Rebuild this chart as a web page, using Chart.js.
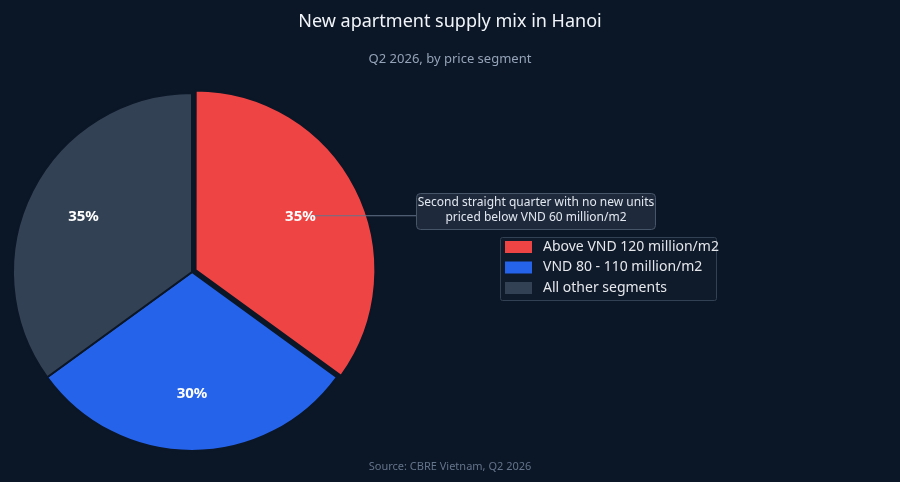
<!DOCTYPE html>
<html><head><meta charset="utf-8">
<script src="https://cdn.jsdelivr.net/npm/chart.js@4"></script>
<style>html,body{margin:0;padding:0;background:#0b1626;}#w{width:900px;height:482px;position:relative}</style>
</head><body><div id="w"><canvas id="c"></canvas></div>
<script>
const categories = ["Above VND 120 million/m2", "VND 80 - 110 million/m2", "All other segments"];
const shares = [35, 30, 35];
const colors = ["#ef4444", "#2563eb", "#334155"];
const offsets = [16, 0, 0];
const annotationLines = ["Second straight quarter with no new units", "priced below VND 60 million/m2"];
const F = "'Noto Sans', sans-serif";
const deco = {
  id: 'deco',
  afterDraw(chart) {
    const ctx = chart.ctx;
    ctx.save();
    ctx.textAlign = 'center'; ctx.textBaseline = 'middle';
    ctx.fillStyle = '#f1f5f9'; ctx.font = "18px " + F;
    ctx.fillText("New apartment supply mix in Hanoi", 450, 22);
    ctx.fillStyle = '#94a3b8'; ctx.font = "13px " + F;
    ctx.fillText("Q2 2026, by price segment", 450, 59);
    ctx.fillStyle = '#64748b'; ctx.font = "11px " + F;
    ctx.fillText("Source: CBRE Vietnam, Q2 2026", 450, 467);
    const meta = chart.getDatasetMeta(0);
    const pos = [];
    meta.data.forEach((a, i) => {
      const mid = (a.startAngle + a.endAngle) / 2;
      const r = a.outerRadius * 0.68;
      pos.push([a.x + Math.cos(mid) * r, a.y + Math.sin(mid) * r]);
    });
    // annotation line
    ctx.strokeStyle = '#64748b'; ctx.lineWidth = 1.2;
    ctx.beginPath(); ctx.moveTo(pos[0][0] + 10, pos[0][1] - 1); ctx.lineTo(416, pos[0][1] - 1); ctx.stroke();
    ctx.font = "bold 15px " + F; ctx.fillStyle = '#ffffff';
    meta.data.forEach((a, i) => ctx.fillText(shares[i] + "%", pos[i][0], pos[i][1]));
    // annotation box
    ctx.fillStyle = '#1e293b'; ctx.strokeStyle = '#475569'; ctx.lineWidth = 1;
    ctx.beginPath(); ctx.roundRect(416.5, 193.5, 239, 36, 4); ctx.fill(); ctx.stroke();
    ctx.fillStyle = '#e2e8f0'; ctx.font = "12px " + F;
    ctx.fillText(annotationLines[0], 536, 203);
    ctx.fillText(annotationLines[1], 536, 218);
    // legend
    ctx.fillStyle = '#0f1a2b'; ctx.strokeStyle = '#334155';
    ctx.beginPath(); ctx.roundRect(500.5, 237.5, 216, 63, 2); ctx.fill(); ctx.stroke();
    ctx.textAlign = 'left'; ctx.font = "14px " + F;
    categories.forEach((c, i) => {
      const y = 247 + i * 20.5;
      ctx.fillStyle = colors[i]; ctx.fillRect(505, y - 6, 27, 12);
      ctx.fillStyle = '#e5e7eb'; ctx.fillText(c, 543, y);
    });
    ctx.restore();
  }
};
new Chart(document.getElementById('c'), {
  type: 'pie',
  data: { labels: categories, datasets: [{ data: shares, backgroundColor: colors, offset: offsets, borderColor: '#0b1626', borderWidth: 2 }] },
  options: {
    responsive: true, maintainAspectRatio: false, animation: false,
    layout: { padding: { left: 4, top: 84, right: 520, bottom: 22 } },
    plugins: { legend: { display: false }, tooltip: { enabled: false } }
  },
  plugins: [deco]
});
</script></body></html>
